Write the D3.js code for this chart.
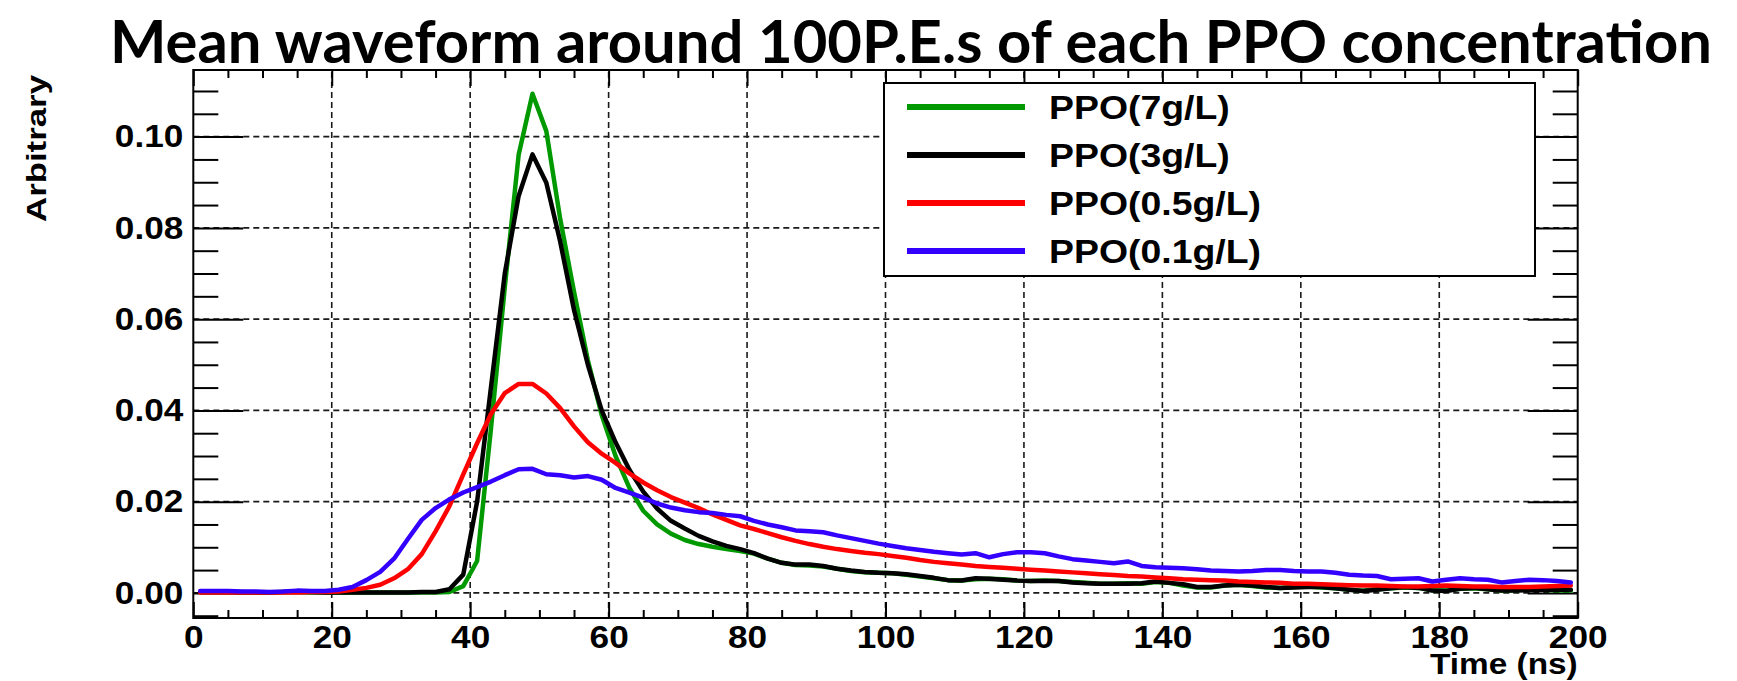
<!DOCTYPE html>
<html>
<head>
<meta charset="utf-8">
<script src="https://cdn.jsdelivr.net/npm/d3@7"></script>
<style>
  html, body { margin: 0; padding: 0; background: #ffffff; }
  svg { display: block; }
</style>
</head>
<body>
<svg id="chart" width="1737" height="681"></svg>
<script>
// ---------------- data ----------------
const titleText = "Mean waveform around 100P.E.s of each PPO concentration";
const xLabel = "Time (ns)";
const yLabel = "Arbitrary";
const xTicks = [0, 20, 40, 60, 80, 100, 120, 140, 160, 180, 200];
const yTicks = [0.00, 0.02, 0.04, 0.06, 0.08, 0.10];
const seriesNames = ["PPO(7g/L)", "PPO(3g/L)", "PPO(0.5g/L)", "PPO(0.1g/L)"];
const seriesColors = ["#009900", "#000000", "#ff0000", "#3300ff"];
// bin centres (ns)
const times = [1,3,5,7,9,11,13,15,17,19,21,23,25,27,29,31,33,35,37,39,
  41,43,45,47,49,51,53,55,57,59,61,63,65,67,69,71,73,75,77,79,
  81,83,85,87,89,91,93,95,97,99,101,103,105,107,109,111,113,115,117,119,
  121,123,125,127,129,131,133,135,137,139,141,143,145,147,149,151,153,155,157,159,
  161,163,165,167,169,171,173,175,177,179,181,183,185,187,189,191,193,195,197,199];
const ppo7 = [0.0002,0.0002,0.0002,0.0002,0.0001,0.0001,0.0002,0.0002,0.0001,0.0001,
  0.0001,0.0001,0.0001,0.0001,0.0001,0.0001,0.0001,0.0001,0.0002,0.0015,
  0.007,0.036,0.067,0.096,0.1094,0.1012,0.082,0.066,0.051,0.039,
  0.030,0.0230,0.0180,0.0150,0.0130,0.0116,0.0107,0.0101,0.0096,0.0092,
  0.0086,0.0075,0.0066,0.0061,0.0060,0.0058,0.0053,0.0048,0.0045,0.0044,
  0.0043,0.0040,0.0036,0.0032,0.0028,0.0027,0.0030,0.0031,0.0030,0.0027,
  0.0026,0.0027,0.0026,0.0024,0.0022,0.0020,0.0020,0.0021,0.0020,0.0024,
  0.0022,0.0016,0.0012,0.0012,0.0016,0.0018,0.0015,0.0012,0.0011,0.0013,
  0.0014,0.0012,0.0010,0.0007,0.0005,0.0008,0.0010,0.0012,0.0011,0.0006,
  0.0005,0.0009,0.0010,0.0008,0.0005,0.0006,0.0008,0.0007,0.0006,0.0005];
const ppo3 = [0.0002,0.0002,0.0002,0.0001,0.0001,0.0001,0.0002,0.0002,0.0002,0.0001,
  0.0001,0.0001,0.0001,0.0001,0.0001,0.0001,0.0002,0.0002,0.0008,0.004,
  0.020,0.045,0.070,0.087,0.0961,0.0899,0.077,0.062,0.050,0.040,
  0.033,0.027,0.0222,0.0185,0.0158,0.0141,0.0125,0.0113,0.0103,0.0096,
  0.0087,0.0075,0.0066,0.0062,0.0062,0.0059,0.0053,0.0049,0.0046,0.0044,
  0.0043,0.0041,0.0037,0.0033,0.0028,0.0027,0.0032,0.0031,0.0029,0.0027,
  0.0026,0.0026,0.0026,0.0023,0.0021,0.0020,0.0020,0.0020,0.0021,0.0025,
  0.0022,0.0019,0.0013,0.0013,0.0016,0.0018,0.0016,0.0013,0.0011,0.0012,
  0.0013,0.0013,0.0010,0.0007,0.0004,0.0007,0.0010,0.0013,0.0011,0.0005,
  0.0004,0.0009,0.0011,0.0008,0.0005,0.0005,0.0006,0.0007,0.0007,0.0007];
const ppo05 = [0.0001,0.0001,0.0001,0.0001,0.0001,0.0001,0.0001,0.0001,0.0002,0.0002,
  0.0003,0.0007,0.0011,0.0018,0.0032,0.0052,0.0085,0.0135,0.019,0.026,
  0.0328,0.0392,0.0438,0.0458,0.0458,0.0437,0.0405,0.0365,0.033,0.0305,
  0.0285,0.0262,0.0242,0.0225,0.021,0.0198,0.0186,0.0172,0.016,0.0148,
  0.0140,0.0131,0.0122,0.0114,0.0107,0.0101,0.0096,0.0092,0.0088,0.0085,
  0.0081,0.0077,0.0072,0.0068,0.0065,0.0062,0.0059,0.0057,0.0055,0.0053,
  0.0051,0.0049,0.0047,0.0045,0.0043,0.0041,0.0039,0.0037,0.0036,0.0034,
  0.0032,0.0030,0.0029,0.0028,0.0027,0.0025,0.0024,0.0023,0.0022,0.0020,
  0.0020,0.0019,0.0018,0.0017,0.0016,0.0016,0.0015,0.0014,0.0014,0.0015,
  0.0016,0.0015,0.0014,0.0014,0.0013,0.0013,0.0013,0.0014,0.0015,0.0016];
const ppo01 = [0.0004,0.0004,0.0004,0.0003,0.0003,0.0002,0.0003,0.0005,0.0004,0.0004,
  0.0007,0.0013,0.0028,0.0046,0.0075,0.0118,0.016,0.0186,0.0205,0.022,
  0.0232,0.0244,0.0258,0.0271,0.0272,0.0260,0.0258,0.0253,0.0256,0.0248,
  0.0230,0.0220,0.0209,0.0196,0.0187,0.0181,0.0177,0.0175,0.0171,0.0168,
  0.0158,0.0150,0.0144,0.0137,0.0135,0.0133,0.0126,0.0120,0.0114,0.0108,
  0.0103,0.0098,0.0094,0.0090,0.0087,0.0084,0.0087,0.0078,0.0085,0.0089,
  0.0089,0.0087,0.0080,0.0074,0.0071,0.0068,0.0065,0.0069,0.0059,0.0056,
  0.0055,0.0054,0.0052,0.0049,0.0048,0.0047,0.0048,0.0050,0.0050,0.0048,
  0.0047,0.0047,0.0044,0.0040,0.0038,0.0037,0.0030,0.0031,0.0032,0.0025,
  0.0029,0.0032,0.0030,0.0029,0.0023,0.0026,0.0029,0.0028,0.0026,0.0023];
const seriesValues = [ppo7, ppo3, ppo05, ppo01];

// ---------------- layout ----------------
const svg = d3.select("#chart");
const X0 = 193.3, X1 = 1577.7, YT = 70, YB = 618;
const x = d3.scaleLinear().domain([0, 200]).range([X0, X1]);
const y = d3.scaleLinear().domain([-0.0055, 0.1146]).range([YB, YT]);
const STRETCH = 1.1;
const tickFont = "'Liberation Sans', Arial, Helvetica, sans-serif";

function stretchText(sel, f) {
  sel.each(function () {
    const w = this.getComputedTextLength();
    if (w > 0) {
      d3.select(this).attr("textLength", w * f).attr("lengthAdjust", "spacingAndGlyphs");
    }
  });
}

svg.append("rect").attr("width", 1737).attr("height", 681).attr("fill", "#fff");

// grid
const grid = svg.append("g").attr("stroke", "#1a1a1a").attr("stroke-width", 1.6)
  .attr("stroke-dasharray", "6,4").attr("fill", "none");
grid.selectAll("line.v").data(xTicks.filter(t => t > 0 && t < 200)).join("line")
  .attr("x1", d => x(d)).attr("x2", d => x(d)).attr("y1", YB).attr("y2", YT);
grid.selectAll("line.h").data(yTicks).join("line")
  .attr("x1", X0).attr("x2", X1).attr("y1", d => y(d)).attr("y2", d => y(d));

// minor ticks positions
const xMinor = d3.range(0, 200.001, 5).filter(v => v % 20 !== 0);
const yMinor = d3.range(-0.005, 0.1146, 0.005).map(v => +v.toFixed(3))
  .filter(v => Math.abs(Math.round(v / 0.02) * 0.02 - v) > 1e-6);

function styleAxis(g) {
  g.select(".domain").remove();
  g.selectAll(".tick line").attr("stroke", "#000").attr("stroke-width", 2);
}

// bottom axis (majors with labels)
const gB = svg.append("g").attr("transform", `translate(0,${YB})`)
  .call(d3.axisBottom(x).tickValues(xTicks).tickSize(-16).tickSizeOuter(0).tickPadding(8).tickFormat(d3.format("d")));
styleAxis(gB);
gB.selectAll(".tick text").attr("font-family", tickFont).attr("font-weight", "bold")
  .attr("font-size", 32).attr("fill", "#000").attr("dy", null).attr("y", 30);
stretchText(gB.selectAll(".tick text"), STRETCH);
svg.append("g").attr("transform", `translate(0,${YB})`)
  .call(d3.axisBottom(x).tickValues(xMinor).tickSize(-8).tickSizeOuter(0).tickFormat(""))
  .call(styleAxis);

// top axis ticks
svg.append("g").attr("transform", `translate(0,${YT})`)
  .call(d3.axisTop(x).tickValues(xTicks).tickSize(-16).tickSizeOuter(0).tickFormat(""))
  .call(styleAxis);
svg.append("g").attr("transform", `translate(0,${YT})`)
  .call(d3.axisTop(x).tickValues(xMinor).tickSize(-8).tickSizeOuter(0).tickFormat(""))
  .call(styleAxis);

// left axis
const gL = svg.append("g").attr("transform", `translate(${X0},0)`)
  .call(d3.axisLeft(y).tickValues(yTicks).tickSize(-50).tickSizeOuter(0).tickPadding(10).tickFormat(d3.format(".2f")));
styleAxis(gL);
gL.selectAll(".tick text").attr("font-family", tickFont).attr("font-weight", "bold")
  .attr("font-size", 32).attr("fill", "#000");
stretchText(gL.selectAll(".tick text"), STRETCH);
svg.append("g").attr("transform", `translate(${X0},0)`)
  .call(d3.axisLeft(y).tickValues(yMinor).tickSize(-25).tickSizeOuter(0).tickFormat(""))
  .call(styleAxis);

// right axis ticks
svg.append("g").attr("transform", `translate(${X1},0)`)
  .call(d3.axisRight(y).tickValues(yTicks).tickSize(-50).tickSizeOuter(0).tickFormat(""))
  .call(styleAxis);
svg.append("g").attr("transform", `translate(${X1},0)`)
  .call(d3.axisRight(y).tickValues(yMinor).tickSize(-25).tickSizeOuter(0).tickFormat(""))
  .call(styleAxis);

// curves
const line = d3.line().x(d => x(d[0])).y(d => y(d[1]));
const curves = svg.append("g").attr("fill", "none").attr("stroke-width", 4.5)
  .attr("stroke-linejoin", "round").attr("stroke-linecap", "round");
seriesValues.forEach((vals, i) => {
  curves.append("path")
    .datum(times.map((t, k) => [t, vals[k]]))
    .attr("stroke", seriesColors[i])
    .attr("d", line);
});

// frame
svg.append("rect").attr("x", X0).attr("y", YT).attr("width", X1 - X0).attr("height", YB - YT)
  .attr("fill", "none").attr("stroke", "#000").attr("stroke-width", 2);

// legend
const LX0 = 884, LX1 = 1535, LY0 = 83, LY1 = 276;
const leg = svg.append("g");
leg.append("rect").attr("x", LX0).attr("y", LY0).attr("width", LX1 - LX0).attr("height", LY1 - LY0)
  .attr("fill", "#fff").attr("stroke", "#000").attr("stroke-width", 2);
const rowY = i => LY0 + 24 + i * 48;
seriesNames.forEach((name, i) => {
  leg.append("line").attr("x1", 907).attr("x2", 1025).attr("y1", rowY(i)).attr("y2", rowY(i))
    .attr("stroke", seriesColors[i]).attr("stroke-width", 6);
  leg.append("text").attr("x", 1049).attr("y", rowY(i) + 12)
    .attr("font-family", tickFont).attr("font-weight", "bold").attr("font-size", 34)
    .attr("fill", "#000").text(name);
});
stretchText(leg.selectAll("text"), STRETCH);

// axis titles
const xt = svg.append("text").attr("x", X1).attr("y", 674).attr("text-anchor", "end")
  .attr("font-family", tickFont).attr("font-weight", "bold").attr("font-size", 29)
  .attr("fill", "#000").text(xLabel);
stretchText(xt, 1.15);

svg.append("text").attr("transform", "translate(46,75) rotate(-90)").attr("text-anchor", "end")
  .attr("font-family", tickFont).attr("font-weight", "bold").attr("font-size", 27)
  .attr("fill", "#000").attr("textLength", 147).attr("lengthAdjust", "spacingAndGlyphs")
  .text(yLabel);

// title
svg.append("text").attr("x", 110).attr("y", 63)
  .attr("font-family", "Lato, 'Open Sans', sans-serif").attr("font-weight", "bold")
  .attr("font-size", 60).attr("fill", "#000")
  .attr("textLength", 1602).attr("lengthAdjust", "spacingAndGlyphs")
  .text(titleText);
</script>
</body>
</html>
